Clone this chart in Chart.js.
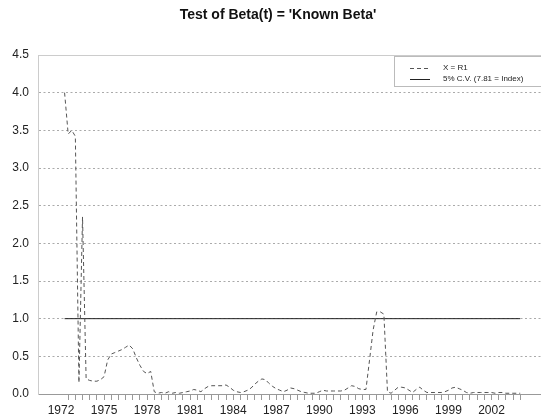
<!DOCTYPE html>
<html>
<head>
<meta charset="utf-8">
<title>Test of Beta(t)</title>
<script src="https://cdn.jsdelivr.net/npm/chart.js@4.4.0/dist/chart.umd.min.js"></script>
<style>
    html, body { margin: 0; padding: 0; background: #fff; overflow: hidden; }
    #wrap { width: 541px; height: 418px; }
</style>
</head>
<body>
<div id="wrap"><canvas id="betaChart" width="541" height="418"></canvas></div>
<script>
// quarterly observations, the first one is 1972:2
const firstPeriod = 1972.25;
const periodStep = 0.25;

// test statistic relative to the 5% critical value
const betaValues = [
    4.00, 3.45, 3.50,               // 1972
    3.42, 0.15, 2.35, 0.20,         // 1973
    0.18, 0.17, 0.17, 0.19,         // 1974
    0.23, 0.45, 0.53, 0.55,         // 1975
    0.57, 0.59, 0.62, 0.65,         // 1976
    0.60, 0.48, 0.38, 0.30,         // 1977
    0.27, 0.30, 0.03, 0.01,         // 1978
    0.02, 0.01, 0.03, 0.01,         // 1979
    0.02, 0.01, 0.02, 0.03,         // 1980
    0.04, 0.06, 0.05, 0.03,         // 1981
    0.07, 0.10, 0.11, 0.11,         // 1982
    0.11, 0.11, 0.12, 0.09,         // 1983
    0.05, 0.03, 0.02, 0.03,         // 1984
    0.05, 0.08, 0.13, 0.17,         // 1985
    0.20, 0.19, 0.14, 0.10,         // 1986
    0.07, 0.05, 0.03, 0.05,         // 1987
    0.08, 0.07, 0.05, 0.03,         // 1988
    0.02, 0.01, 0.01, 0.01,         // 1989
    0.03, 0.05, 0.04, 0.04,         // 1990
    0.04, 0.04, 0.04, 0.05,         // 1991
    0.08, 0.11, 0.10, 0.07,         // 1992
    0.06, 0.06, 0.45, 0.85,         // 1993
    1.09, 1.09, 1.06, 0.03,         // 1994
    0.01, 0.05, 0.09, 0.09,         // 1995
    0.08, 0.05, 0.02, 0.06,         // 1996
    0.09, 0.05, 0.02, 0.02,         // 1997
    0.02, 0.02, 0.02, 0.03,         // 1998
    0.05, 0.08, 0.09, 0.07,         // 1999
    0.05, 0.02, 0.01, 0.02,         // 2000
    0.02, 0.02, 0.02, 0.02,         // 2001
    0.02, 0.01, 0.02, 0.02,         // 2002
    0.01, 0.01, 0.01, 0.01,         // 2003
    0.01                            // 2004
];

// critical value line (index = 1)
const critValue = 1.0;

const seriesNames = ['X = R1', '5% C.V. (7.81 = Index)'];
const xLabelYears = [1972, 1975, 1978, 1981, 1984, 1987, 1990, 1993, 1996, 1999, 2002];
const yTickValues = [0.0, 0.5, 1.0, 1.5, 2.0, 2.5, 3.0, 3.5, 4.0, 4.5];

const lastPeriod = firstPeriod + (betaValues.length - 1) * periodStep;
const betaPoints = betaValues.map((v, i) => ({ x: firstPeriod + i * periodStep, y: v }));
const critPoints = [{ x: firstPeriod, y: critValue }, { x: lastPeriod, y: critValue }];

const xMin = 1970.397;
const xMax = 2005.449;

Chart.defaults.font.family = '"Liberation Sans", Arial, Helvetica, sans-serif';
Chart.defaults.color = '#222';

// legend with a frame, top right corner of the plot
const boxLegend = {
    id: 'boxLegend',
    afterDraw(chart) {
        const c = chart.ctx;
        const left = chart.width - 147;
        const top = chart.chartArea.top + 1;
        c.save();
        c.fillStyle = '#fff';
        c.fillRect(left, top, 150, 31);
        c.strokeStyle = '#bbb';
        c.lineWidth = 1;
        c.strokeRect(left + 0.5, top + 0.5, 150, 30);
        chart.data.datasets.forEach((ds, i) => {
            const y = top + 12 + i * 11;
            c.strokeStyle = ds.borderColor;
            c.setLineDash(ds.borderDash || []);
            c.beginPath();
            c.moveTo(left + 16, y + 0.5);
            c.lineTo(left + 36, y + 0.5);
            c.stroke();
            c.setLineDash([]);
            c.fillStyle = '#222';
            c.font = '8px "Liberation Sans", Arial, sans-serif';
            c.textBaseline = 'middle';
            c.fillText(ds.label, left + 49, y);
        });
        c.restore();
    }
};

const ctx = document.getElementById('betaChart').getContext('2d');

new Chart(ctx, {
    type: 'line',
    data: {
        datasets: [{
            label: seriesNames[0],
            data: betaPoints,
            borderColor: '#555',
            borderWidth: 1,
            borderDash: [4, 3],
            pointRadius: 0,
            tension: 0,
            fill: false
        }, {
            label: seriesNames[1],
            data: critPoints,
            borderColor: '#222',
            borderWidth: 1,
            pointRadius: 0,
            tension: 0,
            fill: false
        }]
    },
    options: {
        responsive: false,
        animation: false,
        // negative right padding only moves the title centre to the right
        layout: { padding: { left: 0, right: -15, top: 0, bottom: 0 } },
        plugins: {
            legend: { display: false },
            tooltip: { enabled: false },
            title: {
                display: true,
                text: "Test of Beta(t) = 'Known Beta'",
                color: '#111',
                font: { size: 14, weight: 'bold' },
                padding: { top: 7, bottom: 31.2 }
            }
        },
        scales: {
            x: {
                type: 'linear',
                position: 'bottom',
                min: xMin,
                max: xMax,
                afterBuildTicks: axis => {
                    const ticks = [];
                    for (let v = 1972; v <= 2004; v += 0.5) ticks.push({ value: v });
                    axis.ticks = ticks;
                },
                afterFit: scale => { scale.height = 24; },
                grid: {
                    drawOnChartArea: false,
                    drawTicks: true,
                    tickLength: 6,
                    tickColor: c => (c.tick && c.tick.value === 1972 ? 'rgba(0,0,0,0)' : '#999')
                },
                border: { display: true, color: '#999' },
                ticks: {
                    autoSkip: false,
                    maxRotation: 0,
                    padding: 3,
                    font: { size: 12 },
                    callback: v => (xLabelYears.includes(v) ? String(v) : '')
                }
            },
            xTop: {
                type: 'linear',
                position: 'top',
                min: xMin,
                max: xMax,
                afterFit: scale => { scale.height = 0; },
                grid: { drawOnChartArea: false, drawTicks: false },
                border: { display: true, color: '#ccc' },
                ticks: { display: false }
            },
            y: {
                min: 0,
                max: 4.5,
                afterBuildTicks: axis => {
                    axis.ticks = yTickValues.map(v => ({ value: v }));
                },
                afterFit: scale => { scale.width = 38; },
                grid: {
                    drawTicks: false,
                    color: c => (c.tick && (c.tick.value === 0 || c.tick.value === 4.5) ? 'rgba(0,0,0,0)' : '#aaa')
                },
                border: { display: true, color: '#ccc', dash: [2, 2.5] },
                ticks: {
                    padding: 9,
                    font: { size: 12 },
                    callback: v => v.toFixed(1)
                }
            }
        }
    },
    plugins: [boxLegend]
});
</script>
</body>
</html>
